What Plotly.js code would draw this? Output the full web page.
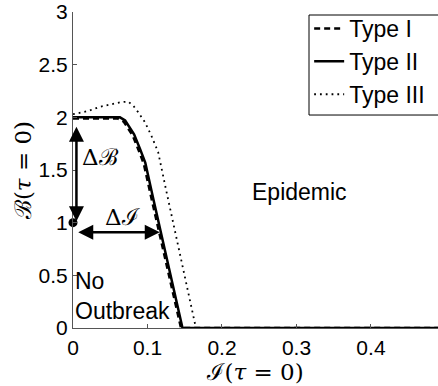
<!DOCTYPE html>
<html>
<head>
<meta charset="utf-8">
<script src="https://cdn.plot.ly/plotly-3.0.1.min.js"></script>
<style>html,body{margin:0;padding:0;background:#fff;}#chart{width:438px;height:386px;}</style>
</head>
<body>
<div id="chart"></div>
<script>
// Type I (dashed)
const typeI_I = [0, 0.03, 0.060, 0.068, 0.074, 0.080, 0.088, 0.095, 0.106, 0.115, 0.125, 0.135, 0.145, 0.49];
const typeI_B = [1.99, 1.99, 1.99, 1.96, 1.90, 1.83, 1.69, 1.56, 1.21, 0.93, 0.62, 0.30, 0, 0];
// Type II (solid)
const typeII_I = [0, 0.03, 0.063, 0.070, 0.076, 0.082, 0.090, 0.097, 0.108, 0.117, 0.127, 0.137, 0.147, 0.49];
const typeII_B = [2.0, 2.0, 2.0, 1.97, 1.91, 1.84, 1.70, 1.57, 1.22, 0.94, 0.63, 0.31, 0, 0];
// Type III (dotted)
const typeIII_I = [0, 0.02, 0.036, 0.050, 0.065, 0.074, 0.081, 0.0874, 0.0964, 0.105, 0.1143, 0.125, 0.135, 0.145, 0.155, 0.165, 0.49];
const typeIII_B = [2.03, 2.06, 2.10, 2.12, 2.145, 2.15, 2.11, 2.05, 1.956, 1.83, 1.67, 1.31, 0.98, 0.66, 0.33, 0, 0];

const seriesNames = ['Type I', 'Type II', 'Type III'];
const xTicks = [0, 0.1, 0.2, 0.3, 0.4];
const yTicks = [0, 0.5, 1, 1.5, 2, 2.5, 3];

// annotation anchors (data coords)
const refPoint = [0, 1];
const deltaB_arrow = {x: 0.0046, y0: 1.0, y1: 1.91};
const deltaI_arrow = {y: 0.91, x0: 0.005, x1: 0.1165};

const sans = 'Liberation Sans, Arial, Helvetica, sans-serif';
const serif = 'DejaVu Serif, Liberation Serif, serif';

const traces = [
  {x: typeII_I, y: typeII_B, mode: 'lines', name: seriesNames[1], legendrank: 2,
   line: {color: '#000', width: 2.5}},
  {x: typeI_I, y: typeI_B, mode: 'lines', name: seriesNames[0], legendrank: 1,
   line: {color: '#000', width: 2.5, dash: '6px,4px'}},
  {x: typeIII_I, y: typeIII_B, mode: 'lines', name: seriesNames[2], legendrank: 3,
   line: {color: '#000', width: 1.8, dash: '1.8px,4px'}},
  {x: [refPoint[0]], y: [refPoint[1]], mode: 'markers', showlegend: false,
   marker: {color: '#000', size: 9}, cliponaxis: false}
];

const layout = {
  width: 438, height: 386,
  margin: {l: 73, r: 0, t: 12, b: 58},
  paper_bgcolor: '#fff', plot_bgcolor: '#fff',
  showlegend: true,
  legend: {
    x: 0.647, y: 1.0158, xanchor: 'left', yanchor: 'top',
    borderwidth: 0, bgcolor: 'rgba(0,0,0,0)',
    font: {family: sans, size: 23, color: '#000'},
    itemwidth: 30,
    traceorder: 'normal'
  },
  shapes: [
    {type: 'rect', xref: 'paper', yref: 'paper', x0: 0.6466, x1: 1.02, y0: 0.674, y1: 0.9905,
     line: {color: '#000', width: 1}, fillcolor: 'rgba(255,255,255,1)', layer: 'below'}
  ],
  xaxis: {
    range: [0, 0.49], tickvals: xTicks, ticktext: xTicks.map(String),
    ticks: 'inside', ticklen: 4, tickcolor: '#555',
    showline: true, linecolor: '#555', linewidth: 1, mirror: false,
    showgrid: false, zeroline: false,
    tickfont: {family: sans, size: 21, color: '#000'},
    ticklabelstandoff: 1,
    title: {text: 'ℐ(<i>τ</i> = 0)', font: {family: serif, size: 23, color: '#000'}, standoff: 4}
  },
  yaxis: {
    range: [0, 3.0005], tickvals: yTicks, ticktext: yTicks.map(String),
    ticks: 'inside', ticklen: 4, tickcolor: '#555',
    showline: true, linecolor: '#555', linewidth: 1, mirror: false,
    showgrid: false, zeroline: false,
    tickfont: {family: sans, size: 21, color: '#000'},
    title: {text: 'ℬ(<i>τ</i> = 0)', font: {family: serif, size: 23, color: '#000'}, standoff: 0}
  },
  annotations: [
    {x: deltaB_arrow.x, y: deltaB_arrow.y1, ax: deltaB_arrow.x, ay: deltaB_arrow.y0,
     xref: 'x', yref: 'y', axref: 'x', ayref: 'y', text: '', showarrow: true,
     arrowhead: 2, startarrowhead: 2, arrowside: 'end+start', arrowsize: 1.2, startarrowsize: 1.2,
     arrowwidth: 2.5, arrowcolor: '#000'},
    {x: deltaI_arrow.x1, y: deltaI_arrow.y, ax: deltaI_arrow.x0, ay: deltaI_arrow.y,
     xref: 'x', yref: 'y', axref: 'x', ayref: 'y', text: '', showarrow: true,
     arrowhead: 2, startarrowhead: 2, arrowside: 'end+start', arrowsize: 1.2, startarrowsize: 1.2,
     arrowwidth: 2.5, arrowcolor: '#000'},
    {x: 0.0373, y: 1.62, xref: 'x', yref: 'y', text: 'Δℬ', showarrow: false,
     font: {family: serif, size: 23, color: '#000'}},
    {x: 0.066, y: 1.054, xref: 'x', yref: 'y', text: 'Δℐ', showarrow: false,
     font: {family: serif, size: 23, color: '#000'}},
    {x: 0.3034, y: 1.29, xref: 'x', yref: 'y', text: 'Epidemic', showarrow: false,
     font: {family: sans, size: 23, color: '#000'}},
    {x: 0, y: 0.306, xref: 'x', yref: 'y', xanchor: 'left', align: 'left',
     text: 'No<br>Outbreak', showarrow: false,
     font: {family: sans, size: 23, color: '#000'}}
  ]
};

Plotly.newPlot('chart', traces, layout, {staticPlot: true, displayModeBar: false});
</script>
</body>
</html>
